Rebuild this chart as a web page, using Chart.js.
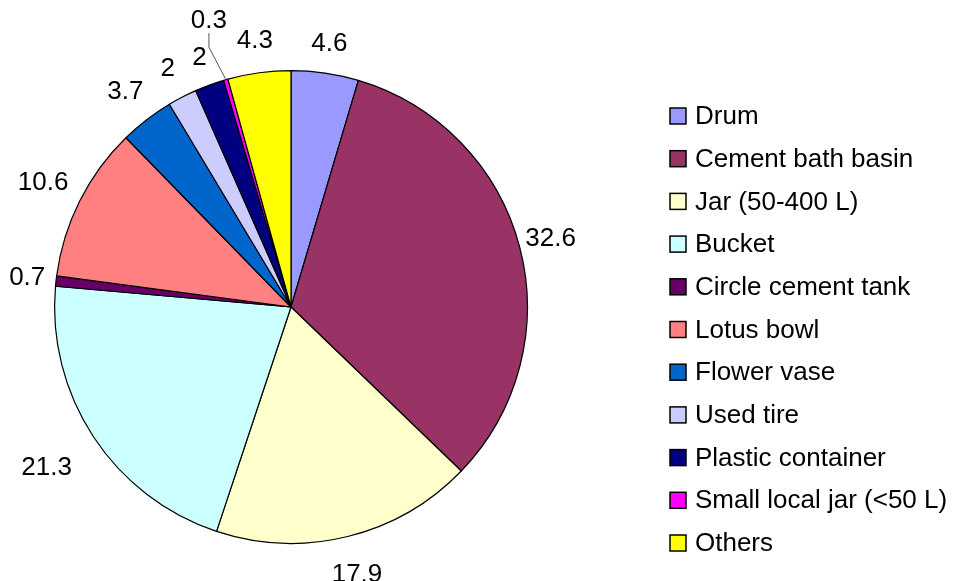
<!DOCTYPE html>
<html lang="en">
<head>
  <meta charset="UTF-8">
  <title>Container types</title>
  <script src="https://cdn.jsdelivr.net/npm/chart.js"></script>
  <style>
    * { margin: 0; padding: 0; box-sizing: border-box; }
    body { background: #fff; width: 958px; height: 581px; overflow: hidden; }
    .chart-box { position: relative; width: 958px; height: 581px; }
  </style>
</head>
<body>
  <div class="chart-box">
    <canvas id="pieChart"></canvas>
  </div>

  <script>
    const categories = ['Drum', 'Cement bath basin', 'Jar (50-400 L)', 'Bucket', 'Circle cement tank',
      'Lotus bowl', 'Flower vase', 'Used tire', 'Plastic container', 'Small local jar (<50 L)', 'Others'];
    const percentages = [4.6, 32.6, 17.9, 21.3, 0.7, 10.6, 3.7, 2, 2, 0.3, 4.3];
    const sliceColors = ['#9999ff', '#993366', '#ffffcc', '#ccffff', '#660066',
      '#ff8080', '#0066cc', '#ccccff', '#000080', '#ff00ff', '#ffff00'];

    // extra distance of each value label beyond the rim (px)
    const labelGap = [30, 32, 39, 56, 29, 41, 35, 32, 29, 61, 32];

    const fontFamily = "'Liberation Sans', Arial, sans-serif";

    const labelPlugin = {
      id: 'sliceLabels',
      afterDatasetsDraw(chart) {
        const ctx = chart.ctx;
        const arcs = chart.getDatasetMeta(0).data;
        ctx.save();
        ctx.font = '26px ' + fontFamily;
        ctx.fillStyle = '#000';
        ctx.textAlign = 'center';
        ctx.textBaseline = 'middle';
        arcs.forEach((arc, i) => {
          const mid = (arc.startAngle + arc.endAngle) / 2;
          const r = arc.outerRadius + labelGap[i];
          const x = arc.x + Math.cos(mid) * r;
          const y = arc.y + Math.sin(mid) * r;
          ctx.fillText(String(percentages[i]), x, y);
          if (labelGap[i] > 50 && percentages[i] < 1) {
            // leader line for the tiny slice
            ctx.strokeStyle = '#555';
            ctx.lineWidth = 1;
            ctx.beginPath();
            ctx.moveTo(x, y + 12);
            ctx.lineTo(x, y + 26);
            ctx.lineTo(arc.x + Math.cos(mid) * (arc.outerRadius + 1), arc.y + Math.sin(mid) * (arc.outerRadius + 1));
            ctx.stroke();
          }
        });
        ctx.restore();
      }
    };

    const legendPlugin = {
      id: 'sideLegend',
      afterDraw(chart) {
        const ctx = chart.ctx;
        ctx.save();
        ctx.font = '26px ' + fontFamily;
        ctx.textBaseline = 'middle';
        ctx.textAlign = 'left';
        categories.forEach((name, i) => {
          const y = 116 + i * 42.7;
          ctx.fillStyle = sliceColors[i];
          ctx.fillRect(670, y - 8, 16, 16);
          ctx.strokeStyle = '#000';
          ctx.lineWidth = 1.5;
          ctx.strokeRect(670, y - 8, 16, 16);
          ctx.fillStyle = '#000';
          ctx.fillText(name, 695, y + 1);
        });
        ctx.restore();
      }
    };

    new Chart(document.getElementById('pieChart'), {
      type: 'pie',
      data: {
        labels: categories,
        datasets: [{
          data: percentages,
          backgroundColor: sliceColors,
          borderColor: '#000',
          borderWidth: 1.2
        }]
      },
      options: {
        responsive: true,
        maintainAspectRatio: false,
        animation: false,
        layout: { padding: { left: 54, right: 430, top: 70, bottom: 37 } },
        plugins: {
          legend: { display: false },
          tooltip: { enabled: false }
        }
      },
      plugins: [labelPlugin, legendPlugin]
    });
  </script>
</body>
</html>
